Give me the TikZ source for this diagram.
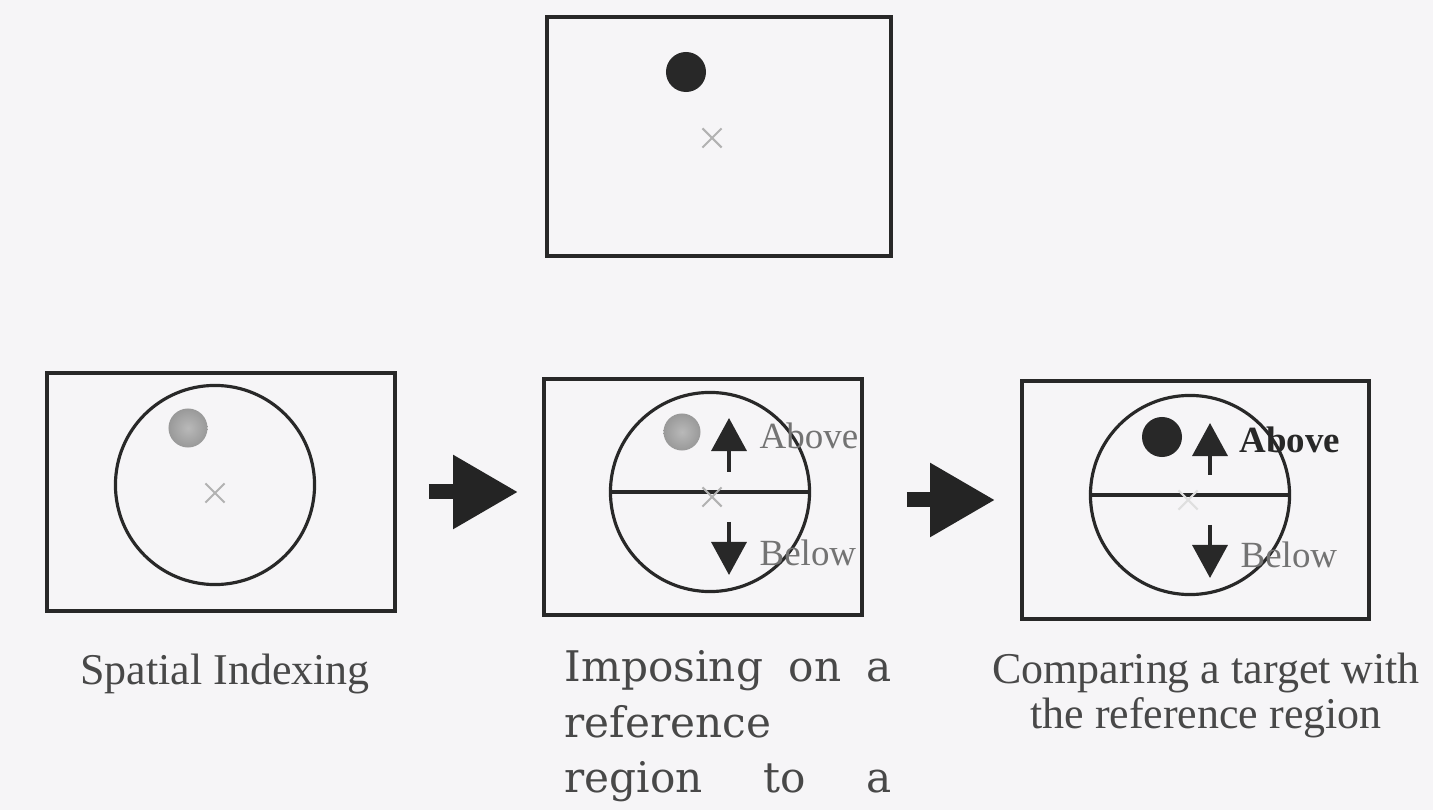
\documentclass[tikz,border=0pt]{standalone}
\usepackage{fontspec}
\setmainfont{Liberation Serif}
\newfontfamily\slabfont{DejaVu Serif}
\usepackage{xcolor}
\usetikzlibrary{positioning,arrows.meta,shapes.misc}
\definecolor{paper}{RGB}{246,245,247}
\definecolor{ink}{RGB}{40,40,40}

\begin{document}
\begin{tikzpicture}[x=0.01cm,y=-0.01cm,
    panel/.style={rectangle, draw=ink, line width=1pt, minimum height=2.38cm, inner sep=0pt},
    ring/.style={circle, draw=ink, line width=0.9pt, minimum size=1.99cm, inner sep=0pt},
    blob/.style={circle, fill=ink, minimum size=0.4cm, inner sep=0pt},
    hazy/.style={circle, inner color=gray!55, outer color=gray!80, minimum size=0.39cm, inner sep=0pt},
    centremark/.style={cross out, draw=gray!60, line width=0.6pt, minimum size=0.17cm, inner sep=0pt},
    bigarrow/.style={-{Triangle[length=0.65cm,width=0.7cm]}, draw=ink!90!black, line width=0.15cm},
    updown/.style={-{Triangle[length=0.33cm,width=0.35cm]}, draw=ink, line width=1pt},
    tag/.style={anchor=west, inner sep=0pt, font=\fontsize{10.5}{12}\selectfont, text=ink!65},
    caption/.style={inner sep=0pt, text=ink!85, font=\fontsize{12.5}{13}\selectfont, align=center}
]
\fill[paper] (0,0) rectangle (1433,810);
\useasboundingbox (0,0) rectangle (1433,810);

% the four panels
\node[panel, minimum width=3.44cm, minimum height=2.39cm] (query) at (719,136.5) {};
\node[panel, minimum width=3.48cm] (index) at (221,492) {};
\node[panel, minimum width=3.18cm, minimum height=2.36cm] (impose) at (703,497) {};
\node[panel, minimum width=3.47cm] (compare) at (1195.5,500) {};

% top panel
\node[blob] (qdot) at (686,72) {};
\node[centremark] (qx) at (712,138) {};

% spatial indexing
\node[ring] (iring) at (215,485) {};
\node[hazy] (idot) at (188,428) {};
\node[centremark] (ix) at (215,493) {};

% imposing the reference region
\node[ring] (pring) at (710,492) {};
\draw[ink, line width=0.9pt] (pring.west) -- (pring.east);
\node[hazy, minimum size=0.37cm] (pdot) at (682,432) {};
\node[centremark] (px) at (712,497) {};
\coordinate (pupfrom) at (729,472);
\coordinate (pupto) at (729,418);
\coordinate (pdownfrom) at (729,522);
\coordinate (pdownto) at (729,575);
\draw[updown] (pupfrom) -- (pupto);
\draw[updown] (pdownfrom) -- (pdownto);
\node[tag] (pabove) at (759,436) {Above};
\node[tag] (pbelow) at (759,553) {Below};

% comparing the target
\node[ring] (cring) at (1190,495) {};
\draw[ink, line width=0.9pt] (cring.west) -- (cring.east);
\node[blob] (cdot) at (1162,437) {};
\node[centremark, draw=gray!25] (cx) at (1188,500) {};
\coordinate (cupfrom) at (1210,475);
\coordinate (cupto) at (1210,423);
\coordinate (cdownfrom) at (1210,525);
\coordinate (cdownto) at (1210,578);
\draw[updown] (cupfrom) -- (cupto);
\draw[updown] (cdownfrom) -- (cdownto);
\node[tag, text=ink, font=\bfseries\fontsize{10.5}{12}\selectfont] (cabove) at (1239,440) {Above};
\node[tag] (cbelow) at (1240,555) {Below};

% block arrows
\draw[bigarrow, shorten <=0.32cm, shorten >=0.24cm] (index.east) -- (index.east -| impose.west);
\draw[bigarrow, shorten <=0.43cm, shorten >=0.25cm] (compare.west -| impose.east) -- (compare.west);

% captions
\node[caption, anchor=north] (icap) at (225,653) {Spatial Indexing};
\node[caption, anchor=north] (ccap) at (1206,652) {Comparing a target with\\the reference region};
\node[anchor=north west, inner sep=0pt, align=left, text=ink!85,
      font=\slabfont\fontsize{12}{15.8}\selectfont] (pcap) at (564,650)
  {\makebox[3.27cm][s]{Imposing on a}\\reference\\\makebox[3.27cm][s]{region to a}};

\end{tikzpicture}
\end{document}
